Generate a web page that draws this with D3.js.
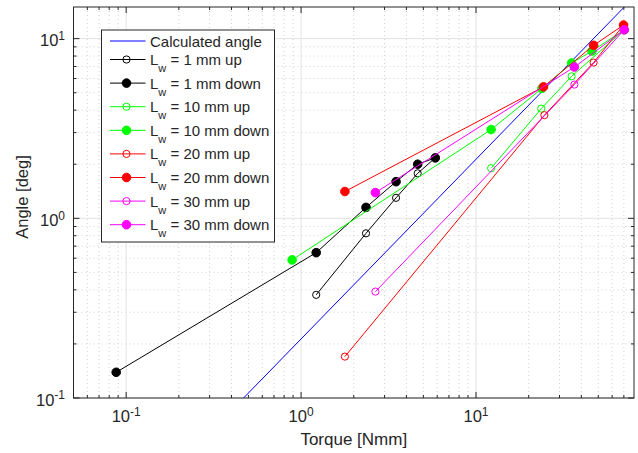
<!DOCTYPE html>
<html>
<head>
<meta charset="utf-8">
<script src="https://cdn.jsdelivr.net/npm/d3@7"></script>
<style>
  body { margin: 0; background: #fff; }
  svg text { font-family: "Liberation Sans", Arial, sans-serif; fill: #262626; }
</style>
</head>
<body>
<div id="chart"></div>
<script>
// data (torque in Nmm, angle in deg)
const calcTorque = [0.0877, 70.4]
const calcAngle = [0.0187, 15.0]

const lw1UpTorque = [1.22, 2.35, 3.49, 4.64, 5.85]
const lw1UpAngle = [0.375, 0.825, 1.30, 1.78, 2.17]
const lw1DownTorque = [0.0877, 1.22, 2.35, 3.49, 4.64, 5.85]
const lw1DownAngle = [0.139, 0.644, 1.15, 1.60, 2.00, 2.17]

const lw10UpTorque = [12.2, 23.6, 35.2, 70.4]
const lw10UpAngle = [1.90, 4.08, 6.17, 11.2]
const lw10DownTorque = [0.889, 12.2, 23.8, 35.2, 46.0, 70.4]
const lw10DownAngle = [0.587, 3.12, 5.28, 7.32, 8.53, 11.2]

const lw20UpTorque = [1.78, 24.6, 47.0, 69.7]
const lw20UpAngle = [0.170, 3.75, 7.36, 11.9]
const lw20DownTorque = [1.78, 24.3, 47.0, 69.7]
const lw20DownAngle = [1.41, 5.39, 9.18, 11.9]

const lw30UpTorque = [2.66, 36.5, 70.4]
const lw30UpAngle = [0.391, 5.55, 11.2]
const lw30DownTorque = [2.66, 36.5, 70.4]
const lw30DownAngle = [1.39, 6.95, 11.2]

const xTicks = [0.1, 1, 10]
const yTicks = [0.1, 1, 10]

const series = [
  {name: "1 mm up", color: "#000000", filled: false, x: lw1UpTorque, y: lw1UpAngle},
  {name: "1 mm down", color: "#000000", filled: true, x: lw1DownTorque, y: lw1DownAngle},
  {name: "10 mm up", color: "#00ff00", filled: false, x: lw10UpTorque, y: lw10UpAngle},
  {name: "10 mm down", color: "#00ff00", filled: true, x: lw10DownTorque, y: lw10DownAngle},
  {name: "20 mm up", color: "#ff0000", filled: false, x: lw20UpTorque, y: lw20UpAngle},
  {name: "20 mm down", color: "#ff0000", filled: true, x: lw20DownTorque, y: lw20DownAngle},
  {name: "30 mm up", color: "#ff00ff", filled: false, x: lw30UpTorque, y: lw30UpAngle},
  {name: "30 mm down", color: "#ff00ff", filled: true, x: lw30DownTorque, y: lw30DownAngle}
]

const width = 638
const height = 453
const margin = {top: 7, right: 4, bottom: 55, left: 73.5}
const innerW = width - margin.left - margin.right
const innerH = height - margin.top - margin.bottom
const axisColor = "#262626"

const svg = d3.select("#chart").append("svg").attr("width", width).attr("height", height)
const g = svg.append("g").attr("transform", `translate(${margin.left},${margin.top})`)

const x = d3.scaleLog().domain([0.05, 80]).range([0, innerW])
const y = d3.scaleLog().domain([0.1, 15]).range([innerH, 0])

// minor positions for each decade
const minorX = [], minorY = []
for (let e = -2; e <= 1; e++) for (let m = 2; m < 10; m++) {
  const v = m * Math.pow(10, e)
  if (v > 0.05 && v < 80) minorX.push(v)
  if (v > 0.1 && v < 15) minorY.push(v)
}

// grid
g.append("g").selectAll("line").data(minorX).join("line")
  .attr("x1", d => x(d)).attr("x2", d => x(d)).attr("y1", 0).attr("y2", innerH)
  .attr("stroke", "#c8c8c8").attr("stroke-width", 0.8).attr("stroke-dasharray", "1,3")
g.append("g").selectAll("line").data(minorY).join("line")
  .attr("y1", d => y(d)).attr("y2", d => y(d)).attr("x1", 0).attr("x2", innerW)
  .attr("stroke", "#c8c8c8").attr("stroke-width", 0.8).attr("stroke-dasharray", "1,3")
g.append("g").selectAll("line").data(xTicks).join("line")
  .attr("x1", d => x(d)).attr("x2", d => x(d)).attr("y1", 0).attr("y2", innerH)
  .attr("stroke", "#e3e3e3").attr("stroke-width", 1)
g.append("g").selectAll("line").data(yTicks).join("line")
  .attr("y1", d => y(d)).attr("y2", d => y(d)).attr("x1", 0).attr("x2", innerW)
  .attr("stroke", "#e3e3e3").attr("stroke-width", 1)

// clip
svg.append("clipPath").attr("id", "clip").append("rect")
  .attr("width", innerW).attr("height", innerH)
const plot = g.append("g").attr("clip-path", "url(#clip)")

const line = d3.line().x(d => x(d[0])).y(d => y(d[1]))

plot.append("path").datum(calcTorque.map((t, i) => [t, calcAngle[i]]))
  .attr("d", line).attr("fill", "none").attr("stroke", "#0000ff").attr("stroke-width", 1)

series.forEach(s => {
  const pts = s.x.map((t, i) => [t, s.y[i]])
  plot.append("path").datum(pts).attr("d", line)
    .attr("fill", "none").attr("stroke", s.color).attr("stroke-width", 1)
  plot.append("g").selectAll("circle").data(pts).join("circle")
    .attr("cx", d => x(d[0])).attr("cy", d => y(d[1]))
    .attr("r", s.filled ? 4.3 : 3.6)
    .attr("fill", s.filled ? s.color : "none")
    .attr("stroke", s.color).attr("stroke-width", 1)
})

// axes box with inner ticks
const box = g.append("g")
box.append("rect").attr("width", innerW).attr("height", innerH)
  .attr("fill", "none").attr("stroke", axisColor).attr("stroke-width", 1)

const tickLines = (vals, len) => {
  vals.forEach(v => {
    box.append("line").attr("x1", x(v)).attr("x2", x(v)).attr("y1", innerH).attr("y2", innerH - len).attr("stroke", axisColor)
    box.append("line").attr("x1", x(v)).attr("x2", x(v)).attr("y1", 0).attr("y2", len).attr("stroke", axisColor)
  })
}
tickLines(xTicks, 6)
tickLines(minorX, 3)
const tickLinesY = (vals, len) => {
  vals.forEach(v => {
    box.append("line").attr("y1", y(v)).attr("y2", y(v)).attr("x1", 0).attr("x2", len).attr("stroke", axisColor)
    box.append("line").attr("y1", y(v)).attr("y2", y(v)).attr("x1", innerW).attr("x2", innerW - len).attr("stroke", axisColor)
  })
}
tickLinesY(yTicks, 6)
tickLinesY(minorY, 3)

// tick labels 10^n
const expOf = v => Math.round(Math.log10(v))
const xLab = g.append("g").selectAll("text").data(xTicks).join("text")
  .attr("x", d => x(d)).attr("y", innerH + 24).attr("text-anchor", "middle")
  .style("font-size", "16.5px")
xLab.append("tspan").text("10")
xLab.append("tspan").attr("dy", -6.5).style("font-size", "12px").text(d => expOf(d))

const yLab = g.append("g").selectAll("text").data(yTicks).join("text")
  .attr("x", -8.5).attr("y", d => y(d) + 7.7).attr("text-anchor", "end")
  .style("font-size", "16.5px")
yLab.append("tspan").text("10")
yLab.append("tspan").attr("dy", -6.5).style("font-size", "12px").text(d => expOf(d))

// axis titles
svg.append("text").attr("x", margin.left + innerW / 2).attr("y", 444.5)
  .attr("text-anchor", "middle").style("font-size", "17px").text("Torque [Nmm]")
svg.append("text").attr("transform", `translate(28,197) rotate(-90)`)
  .attr("text-anchor", "middle").style("font-size", "16.5px").text("Angle [deg]")

// legend
const leg = svg.append("g").attr("transform", "translate(101.5,30)")
leg.append("rect").attr("width", 173).attr("height", 212)
  .attr("fill", "#fff").attr("stroke", axisColor).attr("stroke-width", 1)
const legRows = [{name: "Calculated angle", color: "#0000ff", marker: false}]
  .concat(series.map(s => ({name: s.name, color: s.color, marker: true, filled: s.filled})))
const rowY = i => i === 0 ? 11 : 29.5 + (i - 1) * 23.6
legRows.forEach((r, i) => {
  const ry = rowY(i)
  leg.append("line").attr("x1", 8.5).attr("x2", 44).attr("y1", ry).attr("y2", ry)
    .attr("stroke", r.color).attr("stroke-width", 1)
  if (r.marker) {
    leg.append("circle").attr("cx", 25).attr("cy", ry)
      .attr("r", r.filled ? 4.3 : 3.6)
      .attr("fill", r.filled ? r.color : "none").attr("stroke", r.color)
  }
  const t = leg.append("text").attr("x", 48.5).attr("y", ry + 5.5).style("font-size", "15px")
  if (i === 0) t.text(r.name)
  else {
    t.append("tspan").text("L")
    t.append("tspan").attr("dy", 7).style("font-size", "11px").text("w")
    t.append("tspan").attr("dy", -7).text(" = " + r.name)
  }
})
</script>
</body>
</html>
